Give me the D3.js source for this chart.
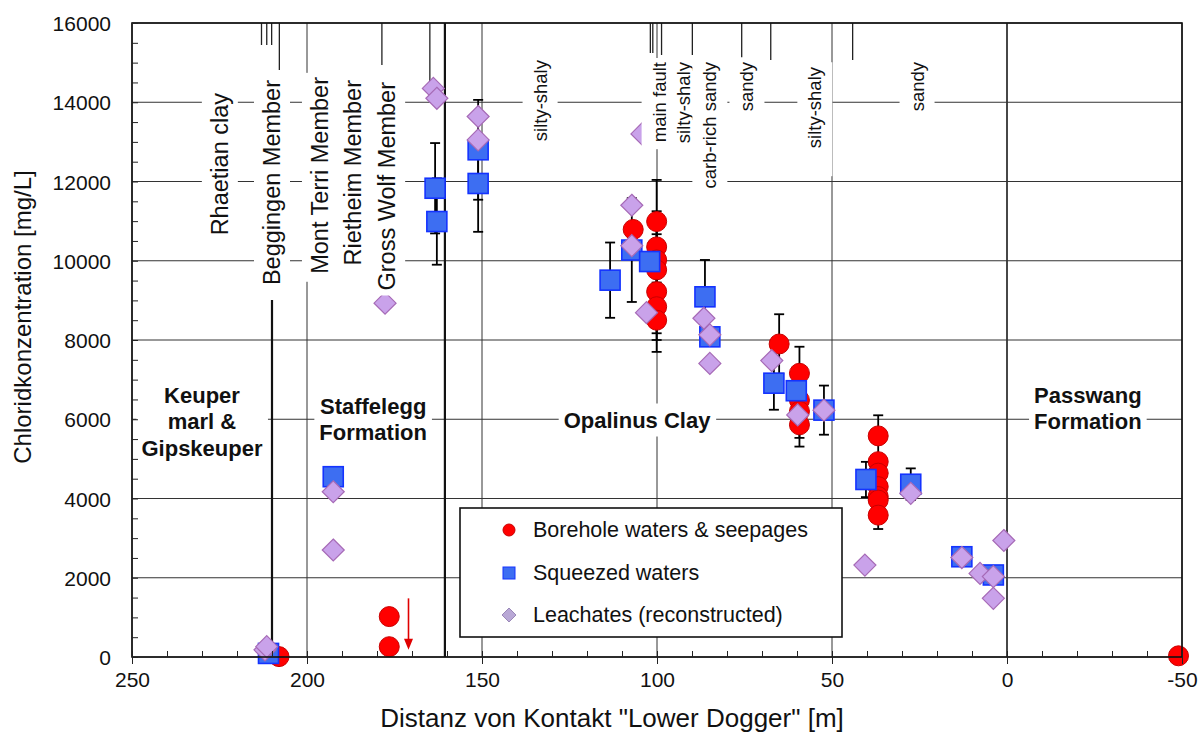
<!DOCTYPE html>
<html><head><meta charset="utf-8">
<script src="https://cdn.jsdelivr.net/npm/d3@7"></script>
<style>
body{margin:0;background:#fff;}
svg{display:block;}
text{font-family:"Liberation Sans",Arial,sans-serif;fill:#111;}
</style>
</head><body>
<svg id="c" width="1204" height="738"></svg>
<script>
// ---------- data ----------
const xTicks = [250, 200, 150, 100, 50, 0, -50];
const yTicks = [0, 2000, 4000, 6000, 8000, 10000, 12000, 14000, 16000];

// Borehole waters & seepages: [distance m, chloride mg/L, error]
const borehole = [
  [208, 10, 0],
  [176.5, 1020, 0], [176.5, 260, 0],
  [106.8, 10790, 0],
  [100.1, 10990, 1050], [100.1, 10350, 900], [100.1, 10020, 900], [100.1, 9770, 900],
  [100.1, 9220, 1050], [100.1, 8840, 840], [100.1, 8500, 800],
  [65.1, 7900, 750],
  [59.3, 7160, 670], [59.3, 6480, 0], [59.3, 6200, 670], [59.3, 5860, 550],
  [36.8, 5580, 520], [36.8, 4930, 0], [36.8, 4640, 0], [36.8, 4300, 0],
  [36.8, 4050, 0], [36.8, 3960, 0], [36.8, 3580, 350],
  [-49, 30, 0]
];
// Squeezed waters: [distance, chloride, error]
const squeezed = [
  [211, 90, 0],
  [192.5, 4550, 0],
  [163.4, 11830, 1140], [162.9, 10990, 1090],
  [151.1, 12800, 1260], [151.1, 11950, 1220],
  [113.4, 9510, 950],
  [107.2, 10270, 1310],
  [102.1, 9980, 0],
  [86.3, 9090, 930],
  [84.9, 8080, 0],
  [66.6, 6910, 670],
  [60.2, 6720, 0],
  [52.3, 6230, 620],
  [40.3, 4480, 445],
  [27.5, 4360, 400],
  [12.9, 2530, 0],
  [3.9, 2070, 0]
];
// Leachates (reconstructed): [distance, chloride]
const leachates = [
  [212, 180], [211.5, 260],
  [192.5, 4170], [192.5, 2700],
  [177.7, 8930],
  [163.9, 14350], [162.9, 14100],
  [151.1, 13640], [151.1, 13050],
  [104.3, 13200],
  [107.2, 11400], [107.2, 10380],
  [103, 8690],
  [86.6, 8550], [84.9, 8130], [84.9, 7410],
  [67.2, 7480],
  [59.8, 6110],
  [52.3, 6230],
  [40.6, 2320],
  [27.5, 4130],
  [12.9, 2510],
  [7.7, 2110], [3.9, 2030], [3.9, 1480], [0.9, 2940]
];
// Stratigraphic boundaries (thick lines): [distance, top chloride level]
const boundaries = [[210, 9010], [160.6, 16000]];
// Short boundary marks hanging from the top: [distance, lower end]
const topMarks = [[213, 15445], [211.5, 15445], [210.1, 15445], [207.9, 14814], [178.6, 14940], [164.9, 14511],
  [101.9, 15243], [101.2, 15243], [98.7, 15193], [89.9, 15193], [75.8, 14940],
  [67.5, 15066], [44.1, 15066]];
// Lithology labels (rotated), anchored at their top
const topLabels = [
  {t: "Rhaetian clay", x: 224.9, y: 14234, s: 23.5, pb: 5},
  {t: "Beggingen Member", x: 210, y: 14562, s: 23.5, pb: 12},
  {t: "Mont Terri Member", x: 196.3, y: 14637, s: 23.5, pb: 8},
  {t: "Rietheim Member", x: 186.9, y: 14562, s: 23.5, pb: 5},
  {t: "Gross Wolf Member", x: 177.1, y: 14511, s: 23.5, pb: 5},
  {t: "silty-shaly", x: 133.4, y: 15066, s: 18.5, pb: 7},
  {t: "main fault", x: 99.4, y: 15016, s: 18.5, pb: 7},
  {t: "silty-shaly", x: 92.3, y: 15016, s: 18.5, pb: 7},
  {t: "carb-rich sandy", x: 84.9, y: 15016, s: 18.5, pb: 7},
  {t: "sandy", x: 74.3, y: 15016, s: 18.5, pb: 7},
  {t: "silty-shaly", x: 54.9, y: 14890, s: 18.5, pb: 28},
  {t: "sandy", x: 25.7, y: 15016, s: 18.5, pb: 7}
];
const regionLabels = [
  {lines: ["Keuper", "marl &", "Gipskeuper"], x: 230, y: 5931},
  {lines: ["Staffelegg", "Formation"], x: 181.1, y: 5994},
  {lines: ["Opalinus Clay"], x: 105.7, y: 5981},
  {lines: ["Passwang", "Formation"], x: -23.1, y: 6271}
];
const arrow = {x: 171, from: 1480, to: 180};
const legendItems = ["Borehole waters & seepages", "Squeezed waters", "Leachates (reconstructed)"];

// ---------- drawing ----------
const svg = d3.select("#c");
const X0 = 132, X1 = 1182, Y0 = 657, Y1 = 23;
const x = d3.scaleLinear().domain([250, -50]).range([X0, X1]);
const y = d3.scaleLinear().domain([0, 16000]).range([Y0, Y1]);
const GRID = "#333";

// grid
const grid = svg.append("g");
grid.selectAll("line.v").data(xTicks).join("line")
  .attr("x1", d => x(d)).attr("x2", d => x(d)).attr("y1", Y1).attr("y2", Y0)
  .attr("stroke", GRID).attr("stroke-width", d => d === 0 ? 1.8 : 1);
grid.selectAll("line.h").data(yTicks).join("line")
  .attr("x1", X0).attr("x2", X1).attr("y1", d => y(d)).attr("y2", d => y(d))
  .attr("stroke", GRID).attr("stroke-width", 1);

// boundaries
svg.append("g").selectAll("line").data(boundaries).join("line")
  .attr("x1", d => x(d[0])).attr("x2", d => x(d[0])).attr("y1", d => y(d[1])).attr("y2", Y0)
  .attr("stroke", "#111").attr("stroke-width", 2.2);
svg.append("g").selectAll("line").data(topMarks).join("line")
  .attr("x1", d => x(d[0])).attr("x2", d => x(d[0])).attr("y1", Y1).attr("y2", d => y(d[1]))
  .attr("stroke", "#222").attr("stroke-width", 1.3);

// error bars
const errData = borehole.concat(squeezed).filter(d => d[2] > 0);
const eb = svg.append("g").attr("stroke", "#000").attr("stroke-width", 1.8);
errData.forEach(d => {
  const cx = x(d[0]), yt = y(d[1] + d[2]), yb = y(d[1] - d[2]);
  eb.append("line").attr("x1", cx).attr("x2", cx).attr("y1", yt).attr("y2", yb);
  eb.append("line").attr("x1", cx - 5).attr("x2", cx + 5).attr("y1", yt).attr("y2", yt);
  eb.append("line").attr("x1", cx - 5).attr("x2", cx + 5).attr("y1", yb).attr("y2", yb);
});

// markers
svg.append("g").selectAll("circle").data(borehole).join("circle")
  .attr("cx", d => x(d[0])).attr("cy", d => y(d[1])).attr("r", 10)
  .attr("fill", "#ff0000").attr("stroke", "#c80000").attr("stroke-width", 1);
svg.append("g").selectAll("rect").data(squeezed).join("rect")
  .attr("x", d => x(d[0]) - 10).attr("y", d => y(d[1]) - 10).attr("width", 20).attr("height", 20)
  .attr("fill", "#3d6ef2").attr("stroke", "#1433ff").attr("stroke-width", 1.6);
const diamond = r => `M0,${-r}L${r},0L0,${r}L${-r},0Z`;
svg.append("g").selectAll("path").data(leachates).join("path")
  .attr("transform", d => `translate(${x(d[0])},${y(d[1])})`)
  .attr("d", diamond(11))
  .attr("fill", "#c9a2ea").attr("stroke", "#a66ab6").attr("stroke-width", 1.2);

// arrow
const ax = x(arrow.x), ay1 = y(arrow.from), ay2 = y(arrow.to);
svg.append("line").attr("x1", ax).attr("x2", ax).attr("y1", ay1).attr("y2", ay2 - 8)
  .attr("stroke", "#e00000").attr("stroke-width", 1.6);
svg.append("path").attr("d", `M${ax - 4.5},${ay2 - 11}L${ax + 4.5},${ay2 - 11}L${ax},${ay2}Z`).attr("fill", "#e00000");

// rotated top labels with white boxes
topLabels.forEach(L => {
  const g = svg.append("g").attr("transform", `translate(${x(L.x)},${y(L.y)}) rotate(-90)`);
  const r = g.append("rect").attr("fill", "#fff");
  const t = g.append("text").attr("text-anchor", "end").attr("dominant-baseline", "central")
    .attr("font-size", L.s).text(L.t);
  const b = t.node().getBBox();
  const padT = L.s > 20 ? 5 : 7, padTop = 4;
  r.attr("x", b.x - L.pb).attr("y", b.y - padT).attr("width", b.width + L.pb + padTop).attr("height", b.height + padT * 2);
});

// region labels
regionLabels.forEach(L => {
  const g = svg.append("g");
  const r = g.append("rect").attr("fill", "#fff");
  const lh = 26.5;
  const n = L.lines.length;
  const t = g.append("text").attr("font-size", 22).attr("font-weight", "bold").attr("text-anchor", "middle");
  L.lines.forEach((s, i) => {
    t.append("tspan").attr("x", x(L.x)).attr("y", y(L.y) + (i - (n - 1) / 2) * lh)
      .attr("dominant-baseline", "central").text(s);
  });
  const b = t.node().getBBox();
  r.attr("x", b.x - 5).attr("y", b.y - 4).attr("width", b.width + 10).attr("height", b.height + 8);
});

// frame
svg.append("rect").attr("x", X0).attr("y", Y1).attr("width", X1 - X0).attr("height", Y0 - Y1)
  .attr("fill", "none").attr("stroke", "#111").attr("stroke-width", 1.6);

// axes
const xAxis = svg.append("g").attr("transform", `translate(0,${Y0})`)
  .call(d3.axisBottom(x).tickValues(xTicks).tickSize(7).tickPadding(8).tickFormat(d => String(d)));
const xMinor = svg.append("g").attr("transform", `translate(0,${Y0})`)
  .call(d3.axisBottom(x).tickValues(d3.range(-50, 251, 10)).tickSize(-6).tickFormat(""));
const yAxis = svg.append("g").attr("transform", `translate(${X0},0)`)
  .call(d3.axisLeft(y).tickValues(yTicks).tickSize(0).tickPadding(21).tickFormat(d => String(d)));
const yMinor = svg.append("g").attr("transform", `translate(${X0},0)`)
  .call(d3.axisLeft(y).tickValues(d3.range(0, 16001, 500)).tickSize(-6).tickFormat(""));
[xAxis, xMinor, yAxis, yMinor].forEach(a => {
  a.select(".domain").remove();
  a.selectAll("line").attr("stroke", "#222").attr("stroke-width", 1);
  a.selectAll("text").attr("font-size", 21).attr("font-family", "Liberation Sans, Arial, sans-serif").attr("fill", "#111");
});
yAxis.selectAll("text").attr("dy", "0.36em");

// axis titles
svg.append("text").attr("x", 612).attr("y", 727).attr("text-anchor", "middle")
  .attr("font-size", 26).text('Distanz von Kontakt "Lower Dogger" [m]');
svg.append("text").attr("transform", "translate(31,317) rotate(-90)").attr("text-anchor", "middle")
  .attr("font-size", 24).text("Chloridkonzentration [mg/L]");

// legend
const lg = svg.append("g");
lg.append("rect").attr("x", 460).attr("y", 508).attr("width", 382).attr("height", 129)
  .attr("fill", "#fff").attr("stroke", "#111").attr("stroke-width", 1.6);
const ly = [530, 573, 615];
lg.append("circle").attr("cx", 509).attr("cy", ly[0]).attr("r", 6).attr("fill", "#ff0000").attr("stroke", "#c80000");
lg.append("rect").attr("x", 503).attr("y", ly[1] - 6).attr("width", 12).attr("height", 12).attr("fill", "#3d6ef2").attr("stroke", "#1433ff");
lg.append("path").attr("transform", `translate(509,${ly[2]})`).attr("d", diamond(7)).attr("fill", "#b9a8d6").attr("stroke", "#9a88b8");
lg.selectAll("text.l").data(legendItems).join("text")
  .attr("x", 533).attr("y", (d, i) => ly[i]).attr("dominant-baseline", "central")
  .attr("font-size", 21.5).text(d => d);
</script>
</body></html>
